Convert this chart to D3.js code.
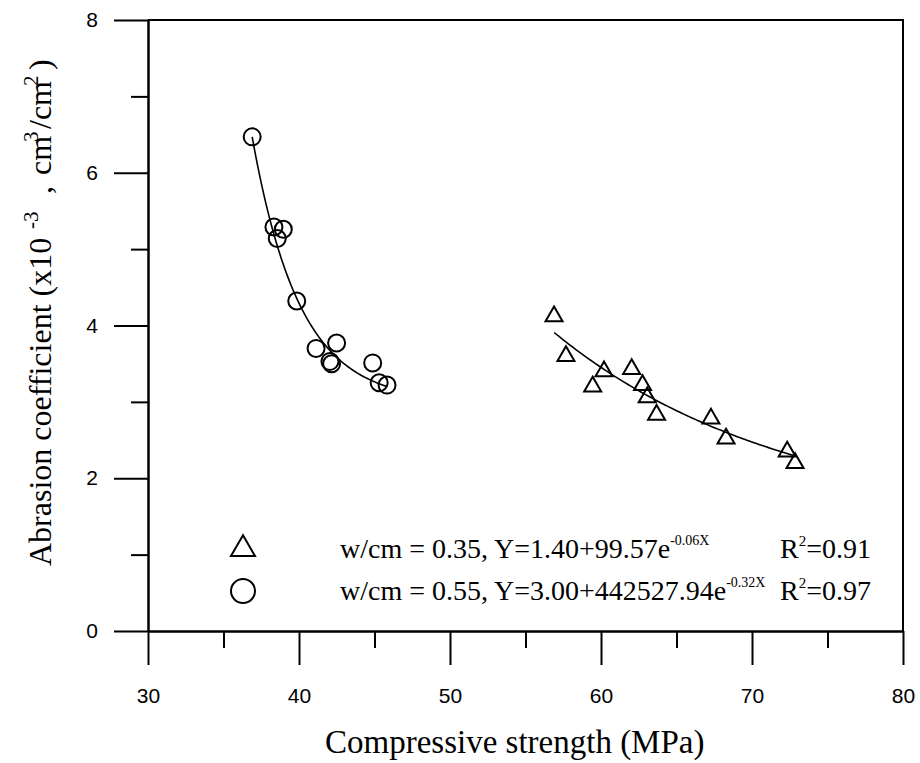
<!DOCTYPE html>
<html>
<head>
<meta charset="utf-8">
<script src="https://cdn.jsdelivr.net/npm/d3@7"></script>
<style>
	body { margin: 0; background: #fff; }
	svg { display: block; }
</style>
</head>
<body>
<div id="area"></div>
<script>

/**
* DATA
* ====
* Points, one array per w/cm series.
*/
var circleX = [36.9, 38.34, 38.96, 38.56, 39.85, 41.13, 42.49, 42.05, 42.16, 44.88, 45.31, 45.83];
var circleY = [6.47, 5.29, 5.26, 5.14, 4.32, 3.70, 3.77, 3.53, 3.50, 3.51, 3.25, 3.22];

var triangleX = [56.89, 57.68, 60.20, 59.45, 62.03, 62.75, 63.06, 63.68, 67.28, 68.28, 72.33, 72.85];
var triangleY = [4.12, 3.60, 3.40, 3.20, 3.43, 3.22, 3.06, 2.83, 2.78, 2.52, 2.35, 2.20];

//Fit curves Y = c + a*exp(-b*X), exponents unrounded so they follow the plotted lines
var fitTriangle = { c: 1.40, a: 99.57, b: 0.0647, from: 56.9, to: 72.85 };
var fitCircle = { c: 3.00, a: 442527.94, b: 0.3186, from: 36.9, to: 45.8 };

var xMajorTicks = [30, 40, 50, 60, 70, 80];
var xMinorTicks = [35, 45, 55, 65, 75];
var yMajorTicks = [0, 2, 4, 6, 8];
var yMinorTicks = [1, 3, 5, 7];

var legendRows = [
	{ symbol: 'triangle', label: 'w/cm = 0.35, Y=1.40+99.57e', exp: '-0.06X', r2: '0.91' },
	{ symbol: 'circle', label: 'w/cm = 0.55, Y=3.00+442527.94e', exp: '-0.32X', r2: '0.97' }
];


/**
* CHART
* =====
*/
var width = 920;
var height = 763;
var margin = { top: 20, right: 17, bottom: 132, left: 148 };

var serif = '"Liberation Serif", "Times New Roman", serif';
var sans = '"Liberation Sans", Arial, sans-serif';

var svg = d3.select('#area').append('svg')
	.attr('width', width)
	.attr('height', height);

var x = d3.scaleLinear().domain([30, 80]).range([margin.left, width - margin.right]);
var y = d3.scaleLinear().domain([0, 8]).range([height - margin.bottom, margin.top]);

//Frame: top and right lines only, no ticks on them
svg.append('path')
	.attr('d', 'M' + x(30) + ',' + y(8) + 'H' + x(80) + 'V' + y(0))
	.attr('fill', 'none')
	.attr('stroke', '#000')
	.attr('stroke-width', 2);

//Bottom axis, long major ticks and half length minor ticks
svg.append('g')
	.attr('transform', 'translate(0,' + y(0) + ')')
	.call(d3.axisBottom(x).tickValues(xMajorTicks).tickSize(34).tickSizeOuter(0).tickPadding(23));

svg.append('g')
	.attr('transform', 'translate(0,' + y(0) + ')')
	.call(d3.axisBottom(x).tickValues(xMinorTicks).tickSize(17).tickSizeOuter(0).tickFormat(''));

//Left axis
svg.append('g')
	.attr('transform', 'translate(' + x(30) + ',0)')
	.call(d3.axisLeft(y).tickValues(yMajorTicks).tickSize(34).tickSizeOuter(0).tickPadding(16));

svg.append('g')
	.attr('transform', 'translate(' + x(30) + ',0)')
	.call(d3.axisLeft(y).tickValues(yMinorTicks).tickSize(17).tickSizeOuter(0).tickFormat(''));

svg.selectAll('.domain, .tick line')
	.attr('stroke', '#000')
	.attr('stroke-width', 2);

svg.selectAll('.tick text')
	.attr('fill', '#000')
	.style('font-family', sans)
	.style('font-size', '21px');

//Axis titles
svg.append('text')
	.attr('x', 325)
	.attr('y', 753)
	.style('font-family', serif)
	.style('font-size', '33px')
	.text('Compressive strength (MPa)');

//Rotated title, pieces placed along the line so the unit part spreads like the original
var yTitle = svg.append('text')
	.attr('transform', 'translate(51,566) rotate(-90)')
	.style('font-family', serif)
	.style('font-size', '32px');

var titleParts = [
	{ t: 'Abrasion coefficient (x10', at: 0, sup: false },
	{ t: '-3', at: 337, sup: true },
	{ t: ',', at: 372, sup: false },
	{ t: 'cm', at: 391, sup: false },
	{ t: '3', at: 424, sup: true },
	{ t: '/cm', at: 437, sup: false },
	{ t: '2', at: 480, sup: true },
	{ t: ')', at: 496, sup: false }
];

titleParts.forEach(function(p){
	yTitle.append('tspan')
		.attr('x', p.at)
		.attr('y', p.sup ? -13 : 0)
		.style('font-size', p.sup ? '21px' : null)
		.text(p.t);
});


/**
* drawFit
* =======
* Draws one exponential fit curve over its own x range
*/
var drawFit = function(fit){

	var xs = d3.range(0, 101).map(function(i){ return fit.from + (fit.to - fit.from) * i / 100; });

	var line = d3.line()
		.x(function(d){ return x(d); })
		.y(function(d){ return y(fit.c + fit.a * Math.exp(-fit.b * d)); });

	svg.append('path')
		.datum(xs)
		.attr('d', line)
		.attr('fill', 'none')
		.attr('stroke', '#000')
		.attr('stroke-width', 1.6);
}

drawFit(fitCircle);
drawFit(fitTriangle);

//Markers
var triangle = d3.symbol().type(d3.symbolTriangle).size(125);
var bigTriangle = d3.symbol().type(d3.symbolTriangle).size(250);

svg.append('g').selectAll('circle')
	.data(d3.zip(circleX, circleY))
	.join('circle')
	.attr('cx', function(d){ return x(d[0]); })
	.attr('cy', function(d){ return y(d[1]); })
	.attr('r', 8.5)
	.attr('fill', 'none')
	.attr('stroke', '#000')
	.attr('stroke-width', 2);

svg.append('g').selectAll('path')
	.data(d3.zip(triangleX, triangleY))
	.join('path')
	.attr('d', triangle)
	.attr('transform', function(d){ return 'translate(' + x(d[0]) + ',' + y(d[1]) + ')'; })
	.attr('fill', 'none')
	.attr('stroke', '#000')
	.attr('stroke-width', 2);


/**
* LEGEND
* ======
*/
var legend = svg.append('g');
var rowY = [549, 591];

legendRows.forEach(function(row, i){

	if( row.symbol === 'triangle' ){
		legend.append('path')
			.attr('d', bigTriangle)
			.attr('transform', 'translate(243,' + rowY[i] + ')')
			.attr('fill', 'none')
			.attr('stroke', '#000')
			.attr('stroke-width', 2);
	} else {
		legend.append('circle')
			.attr('cx', 243)
			.attr('cy', rowY[i])
			.attr('r', 12)
			.attr('fill', 'none')
			.attr('stroke', '#000')
			.attr('stroke-width', 2);
	}

	var t = legend.append('text')
		.attr('x', 340)
		.attr('y', rowY[i] + 9)
		.style('font-family', serif)
		.style('font-size', '28px');
	t.append('tspan').text(row.label);
	t.append('tspan').attr('dy', -13).style('font-size', '14px').text(row.exp);

	var r = legend.append('text')
		.attr('x', 780)
		.attr('y', rowY[i] + 9)
		.style('font-family', serif)
		.style('font-size', '28px');
	r.append('tspan').text('R');
	r.append('tspan').attr('dy', -12).style('font-size', '15px').text('2');
	r.append('tspan').attr('dy', 12).text('=' + row.r2);
});

</script>
</body>
</html>
